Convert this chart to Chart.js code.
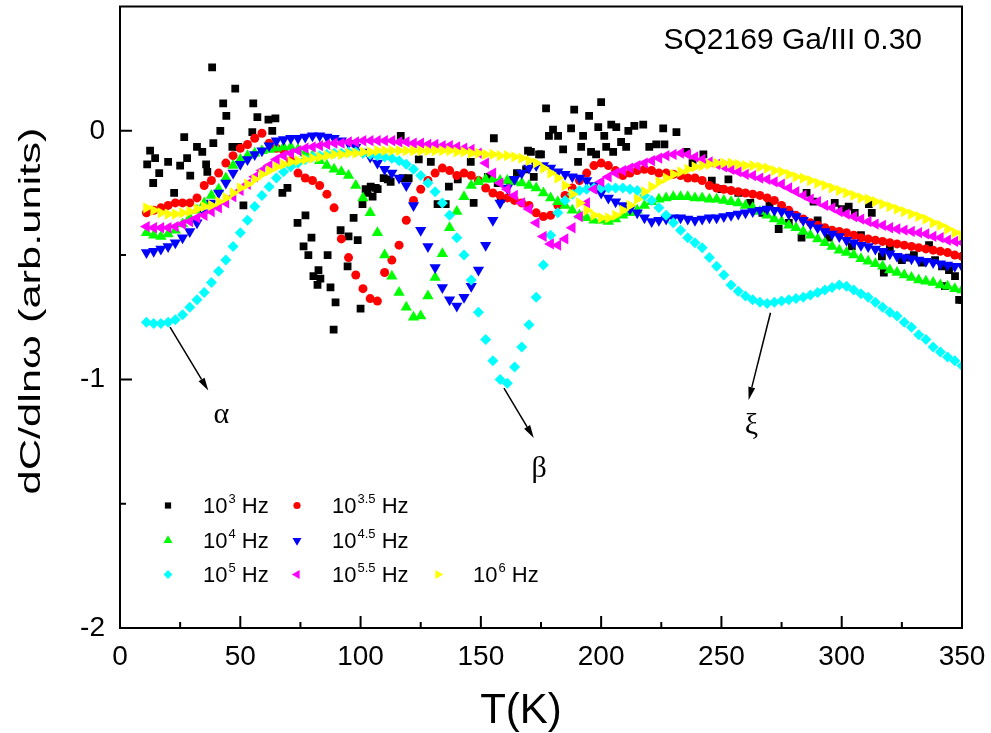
<!DOCTYPE html>
<html lang="en">
<head>
<meta charset="UTF-8">
<title>dC/dlnω vs T</title>
<script src="https://cdn.jsdelivr.net/npm/chart.js@4"></script>
<style>
  body { margin: 0; background: #fff; }
  #wrap { width: 991px; height: 733px; }
</style>
</head>
<body>
<div id="wrap"><canvas id="chart" width="991" height="733"></canvas></div>
<script>
// temperature grid (K) used by the smooth curves
const temps = [
  11,14,17,20,23,26,29,32,35,38, 41,44,47,50,53,56,59,62,65,68,
  71,74,77,80,83,86,89,92,95,98, 101,104,107,110,113,116,119,122,125,128,
  131,134,137,140,143,146,149,152,155,158, 161,164,167,170,173,176,179,182,185,188,
  191,194,197,200,203,206,209,212,215,218, 221,224,227,230,233,236,239,242,245,248,
  251,254,257,260,263,266,269,272,275,278, 281,284,287,290,293,296,299,302,305,308,
  311,314,317,320,323,326,329,332,335,338, 341,344,347,350
];

// 10^3 Hz - scattered squares, [T, value]
const f30 = [
  [11.3,-0.135],[12.5,-0.08],[13.8,-0.21],[14.6,-0.11],[16.3,-0.17],[20,-0.125],[22.5,-0.25],[25,-0.14],[26.7,-0.025],[27.9,-0.11],
  [29.2,-0.18],[32,-0.065],[34.2,-0.085],[35.8,-0.135],[36.3,-0.165],[38.3,0.255],[38.8,-0.05],[41.7,0],[42.9,0.11],[44.2,0.06],
  [46.7,-0.065],[47.9,0.17],[49.2,-0.065],[51.3,-0.3],[55,-0.005],[55.4,0.11],[57.1,0.055],[61.7,0.045],[63.3,0],[64.6,0.05],
  [67.5,-0.25],[69.6,-0.23],[73.8,-0.37],[76.3,-0.465],[77.1,-0.34],[78.3,-0.5],[79.6,-0.43],[80.4,-0.585],[82.1,-0.62],[82.5,-0.56],
  [83.3,-0.595],[86.3,-0.5],[87.5,-0.63],[88.8,-0.8],[89.6,-0.69],[91.7,-0.4],[94.6,-0.545],[95,-0.425],[97.1,-0.35],[98.8,-0.44],
  [100,-0.715],[100.8,-0.295],[102.1,-0.235],[102.9,-0.25],[104.2,-0.225],[105,-0.265],[106.3,-0.23],[107.1,-0.235],[109.6,-0.19],[111.3,-0.195],
  [112.5,-0.205],[116.7,-0.02],[117.5,-0.19],[120,-0.19],[124.2,-0.115],[129.2,-0.125],[132,-0.295],[135.4,-0.295],[136.7,-0.225],[140.4,-0.195],
  [145.8,-0.125],[147,-0.29],[152.9,-0.185],[155.4,-0.03],[157,-0.21],[158.3,-0.275],[162,-0.2],[165,-0.17],[168.8,-0.155],[169.6,-0.08],
  [170.8,-0.085],[172,-0.185],[174.2,-0.095],[175,-0.095],[177.1,0.09],[178.3,-0.02],[180,0.005],[182.1,-0.02],[184.2,-0.075],[187.5,0.01],
  [188.8,0.085],[190.4,-0.125],[191.7,-0.065],[192.5,-0.02],[195,0.06],[195.8,-0.085],[197.9,-0.095],[198.8,0.015],[200,0.115],[201.3,-0.02],
  [202.1,-0.065],[204.2,0.025],[205,-0.085],[206.3,0.015],[208.3,-0.045],[210.4,-0.065],[211.3,0],[213.8,0.02],[217.5,0.025],[220,-0.065],
  [222.9,-0.055],[225.8,0.01],[226.3,-0.055],[231.3,-0.005],[235.4,-0.085],[238,-0.13],[242.5,-0.095],[246,-0.2],[250,-0.235],[252.9,-0.195],
  [257,-0.25],[262,-0.29],[267,-0.33],[270,-0.3],[273.8,-0.395],[278,-0.37],[283.3,-0.43],[285.4,-0.25],[288.3,-0.285],[290,-0.36],
  [294.6,-0.43],[297.1,-0.29],[300,-0.315],[302.9,-0.305],[304.2,-0.465],[305.4,-0.33],[308,-0.42],[311.3,-0.295],[312.5,-0.33],[316.7,-0.505],
  [317.5,-0.57],[320,-0.47],[325,-0.52],[327.9,-0.51],[330,-0.5],[333.3,-0.53],[336.3,-0.46],[338.8,-0.52],[341.7,-0.545],[342.9,-0.625],
  [344.6,-0.56],[347.1,-0.585],[348.8,-0.68],[350,-0.68]
];

// 10^3.5 Hz
const f35 = [
  -0.33,-0.32,-0.31,-0.30,-0.29,-0.29,-0.29,-0.27,-0.22,-0.20,
  -0.17,-0.13,-0.10,-0.07,-0.055,-0.03,-0.01,-0.05,-0.07,-0.08,
  -0.12,-0.17,-0.19,-0.20,-0.22,-0.255,-0.31,-0.435,-0.51,-0.58,
  -0.635,-0.675,-0.685,-0.57,-0.52,-0.46,-0.36,-0.28,-0.235,-0.20,
  -0.17,-0.15,-0.16,-0.18,-0.17,-0.18,-0.20,-0.23,-0.25,-0.26,
  -0.27,-0.28,-0.29,-0.30,-0.33,-0.345,-0.34,-0.30,-0.26,-0.23,
  -0.20,-0.17,-0.14,-0.13,-0.14,-0.16,-0.18,-0.17,-0.16,-0.155,
  -0.16,-0.17,-0.17,-0.175,-0.18,-0.19,-0.19,-0.20,-0.22,-0.23,
  -0.235,-0.24,-0.245,-0.25,-0.255,-0.26,-0.27,-0.28,-0.30,-0.32,
  -0.34,-0.355,-0.37,-0.38,-0.39,-0.40,-0.405,-0.41,-0.42,-0.43,
  -0.435,-0.44,-0.445,-0.45,-0.455,-0.46,-0.465,-0.47,-0.475,-0.48,
  -0.485,-0.49,-0.50,-0.505
];

// 10^4 Hz
const f40 = [
  -0.41,-0.42,-0.425,-0.415,-0.40,-0.375,-0.35,-0.32,-0.29,-0.26,
  -0.235,-0.19,-0.14,-0.115,-0.10,-0.09,-0.08,-0.075,-0.07,-0.065,
  -0.065,-0.075,-0.09,-0.10,-0.12,-0.14,-0.155,-0.165,-0.18,-0.22,
  -0.27,-0.33,-0.41,-0.50,-0.585,-0.65,-0.71,-0.75,-0.745,-0.665,
  -0.59,-0.495,-0.39,-0.325,-0.265,-0.22,-0.205,-0.195,-0.195,-0.20,
  -0.20,-0.205,-0.21,-0.22,-0.23,-0.25,-0.27,-0.285,-0.30,-0.32,
  -0.34,-0.35,-0.36,-0.36,-0.365,-0.355,-0.34,-0.33,-0.32,-0.30,
  -0.285,-0.275,-0.27,-0.265,-0.265,-0.265,-0.27,-0.27,-0.275,-0.275,
  -0.28,-0.285,-0.29,-0.30,-0.31,-0.325,-0.34,-0.355,-0.365,-0.38,
  -0.39,-0.405,-0.42,-0.435,-0.45,-0.465,-0.48,-0.49,-0.50,-0.515,
  -0.525,-0.535,-0.545,-0.56,-0.57,-0.58,-0.59,-0.60,-0.605,-0.61,
  -0.62,-0.625,-0.635,-0.64
];

// 10^4.5 Hz
const f45 = [
  -0.49,-0.485,-0.475,-0.465,-0.45,-0.43,-0.405,-0.37,-0.33,-0.29,
  -0.25,-0.21,-0.17,-0.135,-0.115,-0.095,-0.08,-0.06,-0.04,-0.035,
  -0.03,-0.03,-0.025,-0.02,-0.02,-0.025,-0.03,-0.04,-0.05,-0.065,
  -0.085,-0.105,-0.13,-0.155,-0.17,-0.19,-0.22,-0.30,-0.40,-0.465,
  -0.55,-0.63,-0.68,-0.705,-0.67,-0.625,-0.56,-0.46,-0.36,-0.29,
  -0.23,-0.195,-0.17,-0.15,-0.14,-0.14,-0.15,-0.165,-0.175,-0.185,
  -0.19,-0.20,-0.22,-0.25,-0.27,-0.285,-0.30,-0.315,-0.33,-0.35,
  -0.365,-0.36,-0.355,-0.35,-0.35,-0.355,-0.36,-0.355,-0.35,-0.35,
  -0.345,-0.34,-0.335,-0.33,-0.325,-0.32,-0.315,-0.32,-0.325,-0.335,
  -0.345,-0.36,-0.375,-0.39,-0.405,-0.415,-0.425,-0.44,-0.45,-0.46,
  -0.465,-0.475,-0.485,-0.495,-0.505,-0.51,-0.515,-0.52,-0.525,-0.53,
  -0.535,-0.54,-0.545,-0.545
];

// 10^5 Hz
const f50 = [
  -0.77,-0.775,-0.775,-0.77,-0.76,-0.74,-0.71,-0.68,-0.65,-0.61,
  -0.565,-0.52,-0.465,-0.41,-0.36,-0.305,-0.26,-0.225,-0.19,-0.165,
  -0.145,-0.13,-0.115,-0.105,-0.10,-0.095,-0.09,-0.09,-0.085,-0.085,
  -0.09,-0.095,-0.10,-0.105,-0.11,-0.12,-0.135,-0.155,-0.18,-0.21,
  -0.245,-0.29,-0.34,-0.43,-0.50,-0.60,-0.73,-0.84,-0.925,-1.00,
  -1.015,-0.95,-0.87,-0.78,-0.67,-0.54,-0.42,-0.33,-0.28,-0.255,
  -0.24,-0.235,-0.23,-0.23,-0.23,-0.23,-0.23,-0.235,-0.24,-0.26,
  -0.28,-0.31,-0.34,-0.37,-0.40,-0.43,-0.45,-0.47,-0.51,-0.545,
  -0.58,-0.62,-0.645,-0.665,-0.68,-0.69,-0.695,-0.69,-0.685,-0.68,
  -0.675,-0.67,-0.66,-0.65,-0.64,-0.63,-0.62,-0.625,-0.64,-0.655,
  -0.67,-0.69,-0.71,-0.73,-0.745,-0.77,-0.79,-0.82,-0.84,-0.87,
  -0.89,-0.91,-0.925,-0.945
];

// 10^5.5 Hz
const f55 = [
  -0.385,-0.39,-0.39,-0.39,-0.385,-0.375,-0.365,-0.35,-0.34,-0.325,
  -0.31,-0.29,-0.265,-0.24,-0.215,-0.185,-0.16,-0.14,-0.115,-0.10,
  -0.09,-0.08,-0.07,-0.065,-0.06,-0.055,-0.05,-0.05,-0.045,-0.045,
  -0.04,-0.04,-0.04,-0.04,-0.04,-0.045,-0.045,-0.05,-0.05,-0.055,
  -0.055,-0.06,-0.06,-0.065,-0.07,-0.075,-0.09,-0.13,-0.17,-0.21,
  -0.235,-0.26,-0.29,-0.315,-0.37,-0.425,-0.455,-0.46,-0.435,-0.39,
  -0.345,-0.29,-0.235,-0.205,-0.185,-0.17,-0.16,-0.15,-0.14,-0.13,
  -0.12,-0.11,-0.10,-0.095,-0.09,-0.095,-0.105,-0.115,-0.125,-0.135,
  -0.145,-0.155,-0.165,-0.175,-0.18,-0.19,-0.195,-0.205,-0.215,-0.23,
  -0.245,-0.26,-0.275,-0.285,-0.30,-0.31,-0.325,-0.335,-0.345,-0.355,
  -0.365,-0.375,-0.38,-0.39,-0.395,-0.40,-0.405,-0.41,-0.415,-0.425,
  -0.43,-0.44,-0.445,-0.45
];

// 10^6 Hz
const f60 = [
  -0.31,-0.32,-0.33,-0.335,-0.335,-0.33,-0.325,-0.315,-0.305,-0.30,
  -0.285,-0.27,-0.25,-0.23,-0.215,-0.195,-0.175,-0.16,-0.145,-0.135,
  -0.125,-0.12,-0.115,-0.11,-0.105,-0.10,-0.095,-0.095,-0.09,-0.09,
  -0.085,-0.085,-0.08,-0.08,-0.08,-0.08,-0.08,-0.08,-0.08,-0.08,
  -0.08,-0.08,-0.08,-0.085,-0.085,-0.09,-0.09,-0.095,-0.095,-0.10,
  -0.10,-0.105,-0.11,-0.12,-0.13,-0.15,-0.17,-0.19,-0.22,-0.255,
  -0.29,-0.32,-0.34,-0.35,-0.35,-0.34,-0.32,-0.30,-0.275,-0.245,
  -0.225,-0.205,-0.19,-0.175,-0.165,-0.155,-0.145,-0.14,-0.135,-0.13,
  -0.13,-0.13,-0.135,-0.14,-0.14,-0.145,-0.15,-0.16,-0.165,-0.175,
  -0.185,-0.19,-0.20,-0.21,-0.22,-0.23,-0.24,-0.25,-0.26,-0.27,
  -0.275,-0.285,-0.295,-0.305,-0.315,-0.325,-0.335,-0.345,-0.355,-0.37,
  -0.38,-0.395,-0.41,-0.42
];

const freqExp = ['3', '3.5', '4', '4.5', '5', '5.5', '6'];
const xTicks = [0, 50, 100, 150, 200, 250, 300, 350];
const xMinor = [25, 75, 125, 175, 225, 275, 325];
const yTicks = [-2, -1, 0];
const yMinor = [-1.5, -0.5];

// marker look per series
const colors = ['#000000', '#ff0000', '#00ff00', '#0000ff', '#00ffff', '#ff00ff', '#ffff00'];
const markers = ['rect', 'circle', 'triangle', 'triangle', 'rectRot', 'triangle', 'triangle'];
const rotations = [0, 0, 0, 180, 0, 270, 90];
const radii = [5.5, 4.5, 6.5, 6.5, 5.5, 6.5, 6.5];

// annotation arrows and greek labels, in data units
const arrows = [
  { from: [20.8, -0.79], to: [36.7, -1.045] },
  { from: [159.6, -1.035], to: [172, -1.236] },
  { from: [270.4, -0.732], to: [261.3, -1.083] }
];
const marks = [
  { text: 'α', at: [42.1, -1.175] },
  { text: 'β', at: [174.2, -1.393] },
  { text: 'ξ', at: [262.5, -1.22] }
];

const sans = '"Liberation Sans", Arial, sans-serif';
const serif = '"Liberation Serif", "Times New Roman", serif';

const curves = [null, f35, f40, f45, f50, f55, f60];
const datasets = freqExp.map((e, i) => ({
  label: '10^' + e + ' Hz',
  data: i === 0
    ? f30.map(p => ({ x: p[0], y: p[1] }))
    : temps.map((t, k) => ({ x: t, y: curves[i][k] })),
  showLine: false,
  pointStyle: markers[i],
  rotation: rotations[i],
  pointRadius: radii[i],
  pointBorderWidth: 0,
  backgroundColor: colors[i],
  borderColor: colors[i],
  order: 6 - i   // later frequencies on top, like the original
}));

function arrow(ctx, x0, y0, x1, y1) {
  const ang = Math.atan2(y1 - y0, x1 - x0);
  const c = Math.cos(ang), s = Math.sin(ang), L = 13, W = 3.5;
  ctx.beginPath();
  ctx.moveTo(x0, y0);
  ctx.lineTo(x1 - L * c, y1 - L * s);
  ctx.stroke();
  ctx.beginPath();
  ctx.moveTo(x1, y1);
  ctx.lineTo(x1 - L * c + W * s, y1 - L * s - W * c);
  ctx.lineTo(x1 - L * c - W * s, y1 - L * s + W * c);
  ctx.closePath();
  ctx.fill();
}

const decor = {
  id: 'decor',
  afterDraw(chart) {
    const { ctx, chartArea: a, scales: { x, y } } = chart;
    ctx.save();
    ctx.strokeStyle = '#000';
    ctx.fillStyle = '#000';

    // frame and inward ticks
    ctx.lineWidth = 2;
    ctx.strokeRect(a.left, a.top, a.right - a.left, a.bottom - a.top);
    ctx.beginPath();
    xTicks.forEach(v => { const p = x.getPixelForValue(v); ctx.moveTo(p, a.bottom); ctx.lineTo(p, a.bottom - 12); });
    xMinor.forEach(v => { const p = x.getPixelForValue(v); ctx.moveTo(p, a.bottom); ctx.lineTo(p, a.bottom - 6); });
    yTicks.forEach(v => { const p = y.getPixelForValue(v); ctx.moveTo(a.left, p); ctx.lineTo(a.left + 12, p); });
    yMinor.forEach(v => { const p = y.getPixelForValue(v); ctx.moveTo(a.left, p); ctx.lineTo(a.left + 6, p); });
    ctx.stroke();

    // axis titles
    ctx.font = '42px ' + sans;
    ctx.textAlign = 'center';
    ctx.textBaseline = 'alphabetic';
    ctx.fillText('T(K)', a.left + 401, 723);

    const yTitle = 'dC/dlnω (arb.units)';
    ctx.font = '29px ' + sans;
    const w = ctx.measureText(yTitle).width;
    ctx.save();
    ctx.translate(40, 311);
    ctx.rotate(-Math.PI / 2);
    ctx.scale(367 / w, 1);
    ctx.fillText(yTitle, 0, 0);
    ctx.restore();

    // sample name
    ctx.font = '30px ' + sans;
    ctx.textAlign = 'right';
    ctx.fillText('SQ2169 Ga/III 0.30', a.right - 40, a.top + 42);

    // arrows and greek labels
    ctx.lineWidth = 1.5;
    arrows.forEach(r => arrow(ctx,
      x.getPixelForValue(r.from[0]), y.getPixelForValue(r.from[1]),
      x.getPixelForValue(r.to[0]), y.getPixelForValue(r.to[1])));
    ctx.font = '30px ' + serif;
    ctx.textAlign = 'center';
    marks.forEach(m => ctx.fillText(m.text, x.getPixelForValue(m.at[0]), y.getPixelForValue(m.at[1])));

    // legend, three rows inside the plot
    const slots = [[48, 506], [177, 506], [48, 541], [177, 541], [48, 575], [177, 575], [318, 575]];
    ctx.textAlign = 'left';
    freqExp.forEach((e, i) => {
      const mx = a.left + slots[i][0], base = a.top + slots[i][1];
      ctx.fillStyle = colors[i];
      Chart.helpers.drawPoint(ctx, { pointStyle: markers[i], rotation: rotations[i], radius: radii[i] * 0.8, borderWidth: 0 }, mx, base - 7);
      ctx.fillStyle = '#000';
      let tx = mx + 35;
      ctx.font = '22px ' + sans;
      ctx.fillText('10', tx, base);
      tx += ctx.measureText('10').width + 1;
      ctx.font = '13px ' + sans;
      ctx.fillText(e, tx, base - 10);
      tx += ctx.measureText(e).width;
      ctx.font = '22px ' + sans;
      ctx.fillText(' Hz', tx, base);
    });
    ctx.restore();
  }
};

new Chart(document.getElementById('chart'), {
  type: 'scatter',
  data: { datasets },
  options: {
    responsive: false,
    animation: false,
    layout: { padding: { top: 6, right: 29, left: 0, bottom: 0 } },
    plugins: { legend: { display: false }, tooltip: { enabled: false } },
    scales: {
      x: {
        type: 'linear', min: 0, max: 350,
        afterBuildTicks: s => { s.ticks = xTicks.map(v => ({ value: v })); },
        afterFit: s => { s.height = 105; s.paddingLeft = 0; s.paddingRight = 0; },
        grid: { display: false, drawTicks: false },
        border: { display: false },
        ticks: { color: '#000', font: { size: 28, family: sans }, padding: 12, maxRotation: 0, autoSkip: false }
      },
      y: {
        type: 'linear', min: -2, max: 0.5,
        afterBuildTicks: s => { s.ticks = yTicks.map(v => ({ value: v })); },
        afterFit: s => { s.width = 120; s.paddingTop = 0; s.paddingBottom = 0; },
        grid: { display: false, drawTicks: false },
        border: { display: false },
        ticks: { color: '#000', font: { size: 28, family: sans }, padding: 15 }
      }
    }
  },
  plugins: [decor]
});
</script>
</body>
</html>
